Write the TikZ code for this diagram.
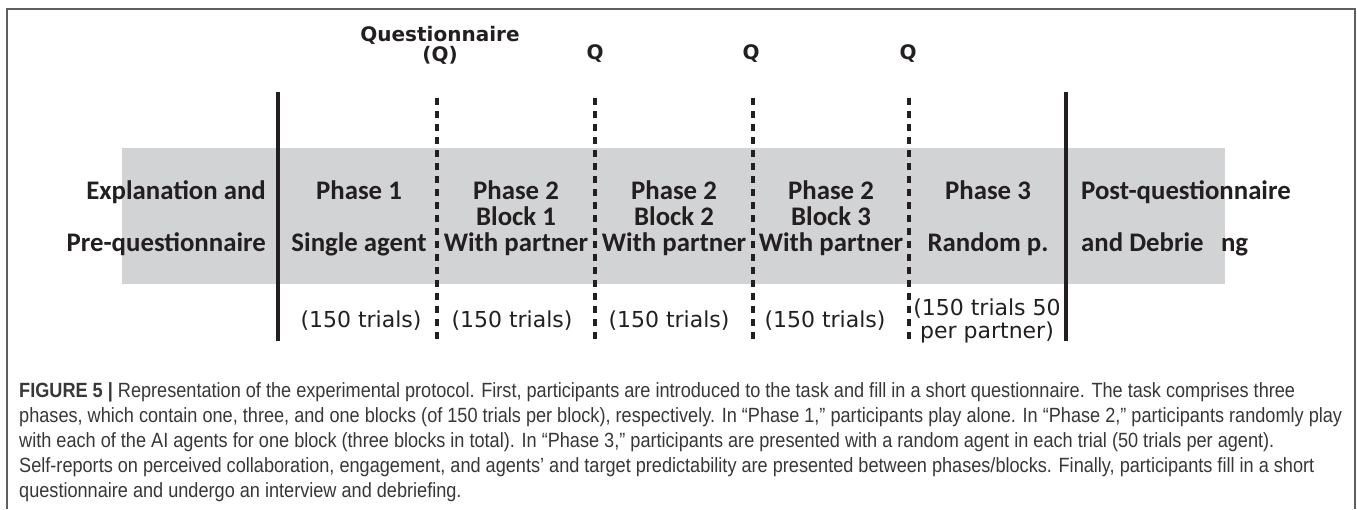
\documentclass[tikz,border=0pt]{standalone}
\usepackage{fontspec}
\setmainfont{Carlito}
\newfontfamily\qfont{DejaVu Sans}
\newfontfamily\capfont[FakeStretch=0.88]{Liberation Sans}
\usetikzlibrary{positioning}
\definecolor{ink}{RGB}{35,31,32}
\definecolor{band}{RGB}{209,211,212}
\definecolor{framegray}{RGB}{95,95,95}
\definecolor{captink}{RGB}{55,55,55}
\tikzset{
  cell/.style={font=\fontsize{26.8}{26}\selectfont\bfseries,text=ink,align=center,inner sep=0pt},
  qlbl/.style={font=\qfont\bfseries\fontsize{20}{20}\selectfont,text=ink,align=center,inner sep=0pt},
  trials/.style={font=\qfont\fontsize{22}{23}\selectfont,text=ink,align=center,inner sep=0pt},
  phaseline/.style={draw=ink,line width=4pt},
  qline/.style={draw=ink,line width=3.6pt,dash pattern=on 7pt off 6pt},
  captxt/.style={font=\capfont\fontsize{20.6}{25}\selectfont,text=captink,align=left,inner sep=0pt}
}

\begin{document}
\begin{tikzpicture}[x=1pt,y=-1pt]
  \useasboundingbox (0,0) rectangle (1357,509);
  % Frame
  \draw[framegray, line width=1.5pt] (7,509) -- (7,9) -- (1355,9) -- (1355,509);

  % Grey band
  \fill[band] (122,148) rectangle (1225,284);

  % Phase separators
  \foreach \x in {278,1066}
    \draw[phaseline] (\x,92) -- (\x,341);
  \foreach \x in {437,595,753,909}
    \draw[qline] (\x,98) -- (\x,341);

  % Questionnaire marks
  \node[qlbl] (q0) at (440,45) {Questionnaire\\(Q)};
  \node[qlbl] (q1) at (595,54) {Q};
  \node[qlbl] (q2) at (751,54) {Q};
  \node[qlbl] (q3) at (908,54) {Q};

  % Cells
  \node[cell, anchor=east, align=right] (expl) at (266,218) {Explanation and\\[26pt]Pre-questionnaire};
  \node[cell] (ph1) at (359,218) {Phase 1\\[26pt]Single agent};
  \node[cell] (blk1) at (516,218) {Phase 2\\Block 1\\With partner};
  \node[cell] (blk2) at (674,218) {Phase 2\\Block 2\\With partner};
  \node[cell] (blk3) at (831,218) {Phase 2\\Block 3\\With partner};
  \node[cell] (ph3) at (988,218) {Phase 3\\[26pt]Random p.};
  \node[cell, anchor=west, align=left] (post) at (1081,218) {Post-questionnaire\\[26pt]and Debrie\hspace{0.65em}ng};

  % Trial counts
  \node[trials] (n1) at (361,321) {(150 trials)};
  \node[trials] (n2) at (512,321) {(150 trials)};
  \node[trials] (n3) at (669,321) {(150 trials)};
  \node[trials] (n4) at (825,321) {(150 trials)};
  \node[trials] (n5) at (987,321) {(150 trials 50\\per partner)};

  % Caption
  \node[captxt, anchor=north west] (capt) at (19,382) {{\bfseries FIGURE 5 |} Representation of the experimental protocol. First, participants are introduced to the task and fill in a short questionnaire. The task comprises three\\
phases, which contain one, three, and one blocks (of 150 trials per block), respectively. In “Phase 1,” participants play alone. In “Phase 2,” participants randomly play\\
with each of the AI agents for one block (three blocks in total). In “Phase 3,” participants are presented with a random agent in each trial (50 trials per agent).\\
Self-reports on perceived collaboration, engagement, and agents’ and target predictability are presented between phases/blocks. Finally, participants fill in a short\\
questionnaire and undergo an interview and debriefing.};
\end{tikzpicture}
\end{document}
